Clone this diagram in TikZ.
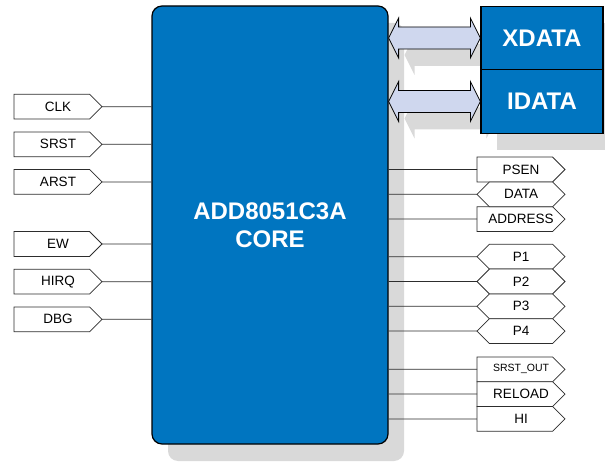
\documentclass[tikz,border=0pt]{standalone}
\usepackage{fontspec}
\setmainfont{Liberation Sans}
\usetikzlibrary{shapes.symbols,shadows,calc}

\definecolor{coreblue}{RGB}{0,117,192}
\definecolor{busfill}{RGB}{207,215,238}
\definecolor{shadowgrey}{RGB}{217,217,217}
\definecolor{pinline}{RGB}{45,45,45}

\pgfdeclarelayer{bg}
\pgfsetlayers{bg,main}

\tikzset{
  greyshadow/.style={general shadow={fill=shadowgrey, shadow xshift=16pt, shadow yshift=-17pt}},
  core/.style={draw=black, line width=1.2pt, fill=coreblue, rounded corners=10pt,
    minimum width=236pt, minimum height=438pt, align=center, text=white,
    font=\bfseries\fontsize{24}{28}\selectfont, greyshadow},
  mem/.style={draw=black, line width=1.2pt, fill=coreblue, minimum width=122pt,
    minimum height=63.5pt, text=white, font=\bfseries\fontsize{24}{28}\selectfont, greyshadow},
  bus/.style={draw=black, line width=0.8pt, fill=busfill, greyshadow},
  pin/.style={signal, signal to=east, draw=pinline, line width=0.75pt, fill=white,
    minimum width=88pt, minimum height=24.8pt, inner sep=0pt, outer sep=0pt,
    font=\fontsize{13.5}{16}\selectfont},
  onewaypin/.style={pin,
    execute at begin node={\hspace*{6.2pt}}, execute at end node={\hspace*{-6.2pt}}},
  biopin/.style={pin, signal to=east and west}
}

\begin{document}
\begin{tikzpicture}[x=1pt,y=-1pt]
  \useasboundingbox (0,0) rectangle (605,462);

  \begin{pgfonlayer}{bg}
    \node[core] (core) at (270,225) {ADD8051C3A\\CORE};
  \end{pgfonlayer}

  \node[mem] (xdata) at (542,38) {XDATA};
  \node[mem] (idata) at (542,101.5) {IDATA};

  % bus arrows between core and memories
  \begin{pgfonlayer}{bg}
    \foreach \m in {xdata,idata}
      \path[bus] let \p1=(core.east |- \m.west), \p2=(\m.west) in
        (\x1,\y1) -- (\x1+10pt,\y1+20pt) -- (\x1+10pt,\y1+11pt)
        -- (\x2-10pt,\y1+11pt) -- (\x2-10pt,\y1+20pt) -- (\x2,\y1)
        -- (\x2-10pt,\y1-20pt) -- (\x2-10pt,\y1-11pt)
        -- (\x1+10pt,\y1-11pt) -- (\x1+10pt,\y1-20pt) -- cycle;
  \end{pgfonlayer}

  % inputs
  \begin{scope}[every node/.style={onewaypin}]
    \node (clk)  at (51.8,106.7) {CLK};
    \node (srst) at (51.8,144.3) {SRST};
    \node (arst) at (51.8,181.9) {ARST};
    \node (ew)   at (51.8,244)   {EW};
    \node (hirq) at (51.8,281.7) {HIRQ};
    \node (dbg)  at (51.8,319.3) {DBG};
  \end{scope}

  % outputs
  \begin{scope}[every node/.style={onewaypin}]
    \node (psen)    at (514.8,169.5) {PSEN};
    \node (address) at (514.8,219.1) {ADDRESS};
    \node[font=\fontsize{10.5}{12}\selectfont] (srstout) at (514.8,369.3) {SRST\_OUT};
    \node (reload)  at (514.8,394.1) {RELOAD};
    \node (hi)      at (514.8,418.9) {HI};
  \end{scope}

  % bidirectional
  \begin{scope}[every node/.style={biopin}]
    \node (data) at (521,194.3) {DATA};
    \node (p1)   at (521,256.7) {P1};
    \node (p2)   at (521,281.5) {P2};
    \node (p3)   at (521,306.3) {P3};
    \node (p4)   at (521,331.1) {P4};
  \end{scope}

  \begin{scope}[every edge/.style={draw=pinline, line width=0.75pt}]
    \foreach \s in {clk,srst,arst,ew,hirq,dbg}
      \path (\s) edge (\s -| core.west);
    \foreach \s in {psen,data,address,p1,p2,p3,p4,srstout,reload,hi}
      \path (core.east |- \s) edge (\s);
  \end{scope}

\end{tikzpicture}
\end{document}
